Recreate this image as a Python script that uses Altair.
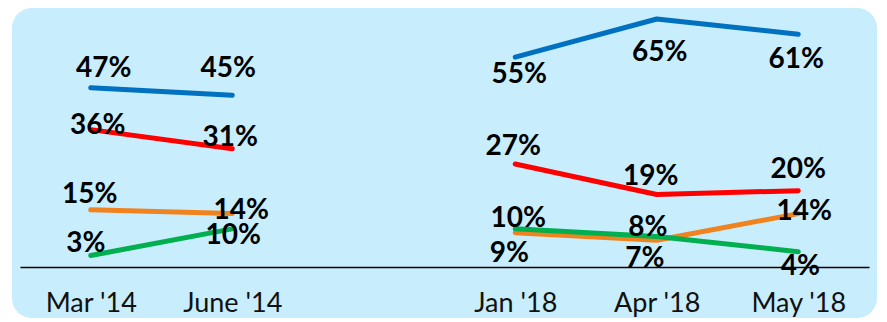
import altair as alt
import pandas as pd

# ---- data ----
months = ["Mar '14", "June '14", " ", "Jan '18", "Apr '18", "May '18"]
periods = ["2014", "2014", None, "2018", "2018", "2018"]
series_names = ["Series A", "Series B", "Series C", "Series D"]
blue = [47, 45, None, 55, 65, 61]
red = [36, 31, None, 27, 19, 20]
orange = [15, 14, None, 9, 7, 14]
green = [3, 10, None, 10, 8, 4]
colors = ["#0070C0", "#FF0000", "#F0831E", "#00B050"]

# ---- label placement offsets (pixels, style only) ----
blue_dx = [13, -4, None, 4, 3, -2]
blue_dy = [-19, -26, None, 18, 34, 26]
red_dx = [7, -2, None, -2, -6, 0]
red_dy = [-4, -11, None, -17, -18, -21]
orange_dx = [-1, 9, None, -6, -12, 6]
orange_dy = [-15, -3, None, 21, 19, -2]
green_dx = [-5, 1, None, 3, -9, 2]
green_dy = [-12, 7, None, -10, -8, 15]

all_vals = [blue, red, orange, green]
all_dx = [blue_dx, red_dx, orange_dx, green_dx]
all_dy = [blue_dy, red_dy, orange_dy, green_dy]

rows = []
for s, vals, dxs, dys in zip(series_names, all_vals, all_dx, all_dy):
    for m, p, v, dx, dy in zip(months, periods, vals, dxs, dys):
        if v is None:
            continue
        rows.append({"series": s, "month": m, "period": p, "value": v,
                     "label": f"{v}%", "dx": dx, "dy": dy})
df = pd.DataFrame(rows)

x_enc = alt.X(
    "month:N",
    sort=months,
    scale=alt.Scale(domain=months, type="point", padding=0.5),
    axis=alt.Axis(title=None, ticks=False, grid=False, domainColor="black",
                  domainWidth=1.5, labelFont="Lato", labelFontSize=27,
                  labelColor="#111111", labelPadding=23, labelAngle=0, zindex=1),
)
y_enc = alt.Y("value:Q", scale=alt.Scale(domain=[0, 65], nice=False, zero=False), axis=None)

bg = alt.Chart(pd.DataFrame({"k": [0]})).mark_rect(color="#C8EEFD", cornerRadius=20).encode(
    x=alt.value(-8), x2=alt.value(857), y=alt.value(-11), y2=alt.value(299)
)

lines = alt.Chart(df).mark_line(strokeWidth=5, strokeCap="round", strokeJoin="round").encode(
    x=x_enc,
    y=y_enc,
    color=alt.Color("series:N", scale=alt.Scale(domain=series_names, range=colors), legend=None),
    detail="period:N",
)

labels = alt.Chart(df).mark_text(
    font="Lato", fontSize=28, fontWeight="bold", color="black", baseline="middle", align="center",
    dx=alt.expr("datum.dx"), dy=alt.expr("datum.dy"),
).encode(
    x=x_enc,
    y=y_enc,
    text="label:N",
)

chart = alt.layer(bg, lines, labels).properties(
    width=849,
    height=248,
    padding={"left": 12, "top": 11, "right": 10, "bottom": 53},
    autosize=alt.AutoSizeParams(type="none"),
).configure_view(stroke=None)

chart.save("out.html", embed_options={"renderer": "svg", "actions": False})
